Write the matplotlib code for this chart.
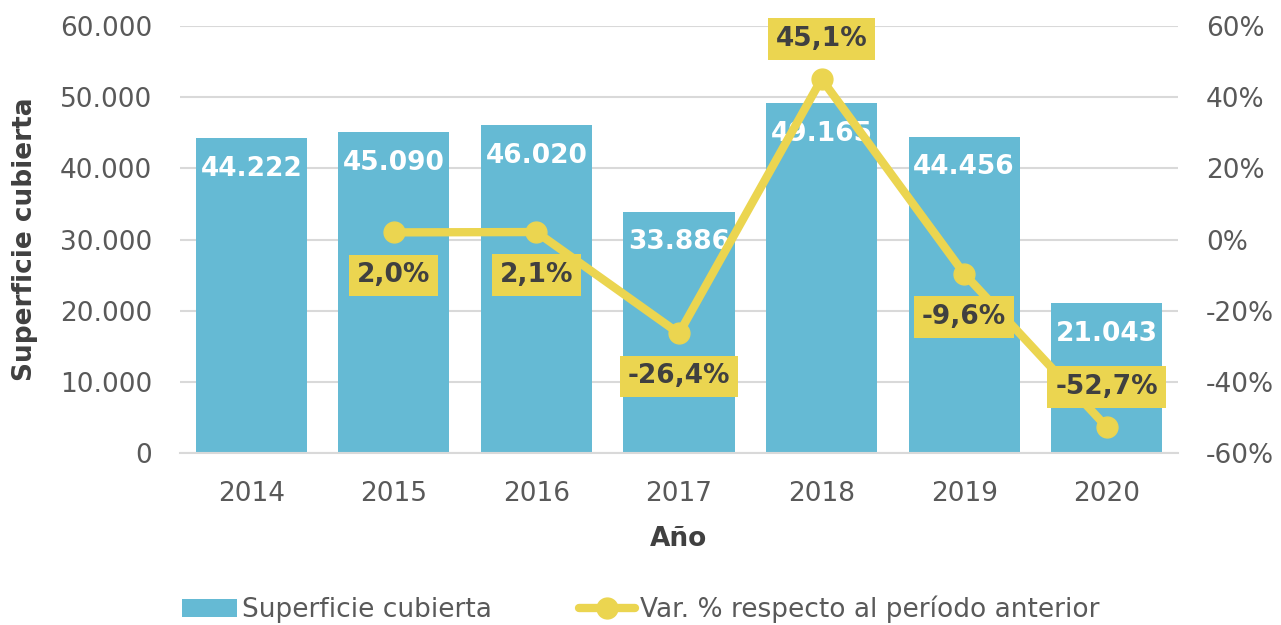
import matplotlib
matplotlib.use("Agg")
import matplotlib.pyplot as plt
from matplotlib.ticker import FuncFormatter, MultipleLocator

plt.rcParams['font.family'] = ['DejaVu Sans']

years = ["2014", "2015", "2016", "2017", "2018", "2019", "2020"]
superficie = [44222, 45090, 46020, 33886, 49165, 44456, 21043]
var_years = ["2015", "2016", "2017", "2018", "2019", "2020"]
var_pct = [2.0, 2.1, -26.4, 45.1, -9.6, -52.7]
var_pos = ["below", "below", "below", "above", "below", "above"]

bar_color = "#65BAD4"
line_color = "#EBD550"
tick_color = "#595959"
dark = "#404040"

fig = plt.figure(figsize=(12.81, 6.25), dpi=100)
ax = fig.add_axes([0.1405, 0.2752, 0.7791, 0.6832])
ax2 = ax.twinx()

x = list(range(len(years)))
ax.bar(x, superficie, width=0.78, color=bar_color, zorder=2, label="Superficie cubierta")
ax.set_xlim(-0.5, len(years) - 0.5)
ax.set_ylim(0, 60000)
ax.yaxis.set_major_locator(MultipleLocator(10000))
ax.yaxis.set_major_formatter(FuncFormatter(lambda v, p: f"{int(v):,}".replace(",", ".")))
ax.grid(axis="y", color="#D9D9D9", linewidth=1.5, zorder=0)
ax.set_axisbelow(True)
ax.set_xticks(x)
ax.set_xticklabels(years)
for s in ["top", "right", "left"]:
    ax.spines[s].set_visible(False)
    ax2.spines[s].set_visible(False)
ax.spines["bottom"].set_color("#D9D9D9")
ax.spines["bottom"].set_linewidth(1.5)
ax2.spines["bottom"].set_visible(False)
ax.tick_params(axis="y", length=0, labelsize=19, labelcolor=tick_color, pad=20)
ax.tick_params(axis="x", length=0, labelsize=19, labelcolor=tick_color, pad=20)
ax2.tick_params(axis="y", length=0, labelsize=19, labelcolor=tick_color, pad=20)
ax.set_xlabel("Año", fontsize=19, fontweight="bold", color=dark, labelpad=14)
ax.set_ylabel("Superficie cubierta", fontsize=19, fontweight="bold", color=dark, labelpad=16)

for xi, v in zip(x, superficie):
    ax.annotate(f"{v:,}".replace(",", "."), (xi, v), xytext=(0, -22), textcoords="offset points",
                ha="center", va="center", fontsize=19, fontweight="bold", color="white", zorder=3)

ax2.set_ylim(-60, 60)
ax2.yaxis.set_major_locator(MultipleLocator(20))
ax2.yaxis.set_major_formatter(FuncFormatter(lambda v, p: f"{int(round(v))}%"))
vx = [years.index(y) for y in var_years]
ax2.plot(vx, var_pct, color=line_color, linewidth=6, marker="o", markersize=15,
         zorder=4, label="Var. % respecto al período anterior", solid_capstyle="round")
for xi, v, pos in zip(vx, var_pct, var_pos):
    off = 29 if pos == "above" else -31
    ax2.annotate(f"{v:.1f}%".replace(".", ","), (xi, v), xytext=(0, off), textcoords="offset points",
                 ha="center", va="center", fontsize=19, fontweight="bold", color=dark, zorder=5,
                 bbox=dict(boxstyle="square,pad=0.3", facecolor=line_color, edgecolor="none"))

h1, l1 = ax.get_legend_handles_labels()
h2, l2 = ax2.get_legend_handles_labels()
fig.legend(h1 + h2, l1 + l2, loc="lower center", bbox_to_anchor=(0.5, -0.035), ncol=2, frameon=False,
           fontsize=19, labelcolor=tick_color, handlelength=2.1, columnspacing=3.3, handletextpad=0.2)

fig.savefig("out.png", dpi=100)
